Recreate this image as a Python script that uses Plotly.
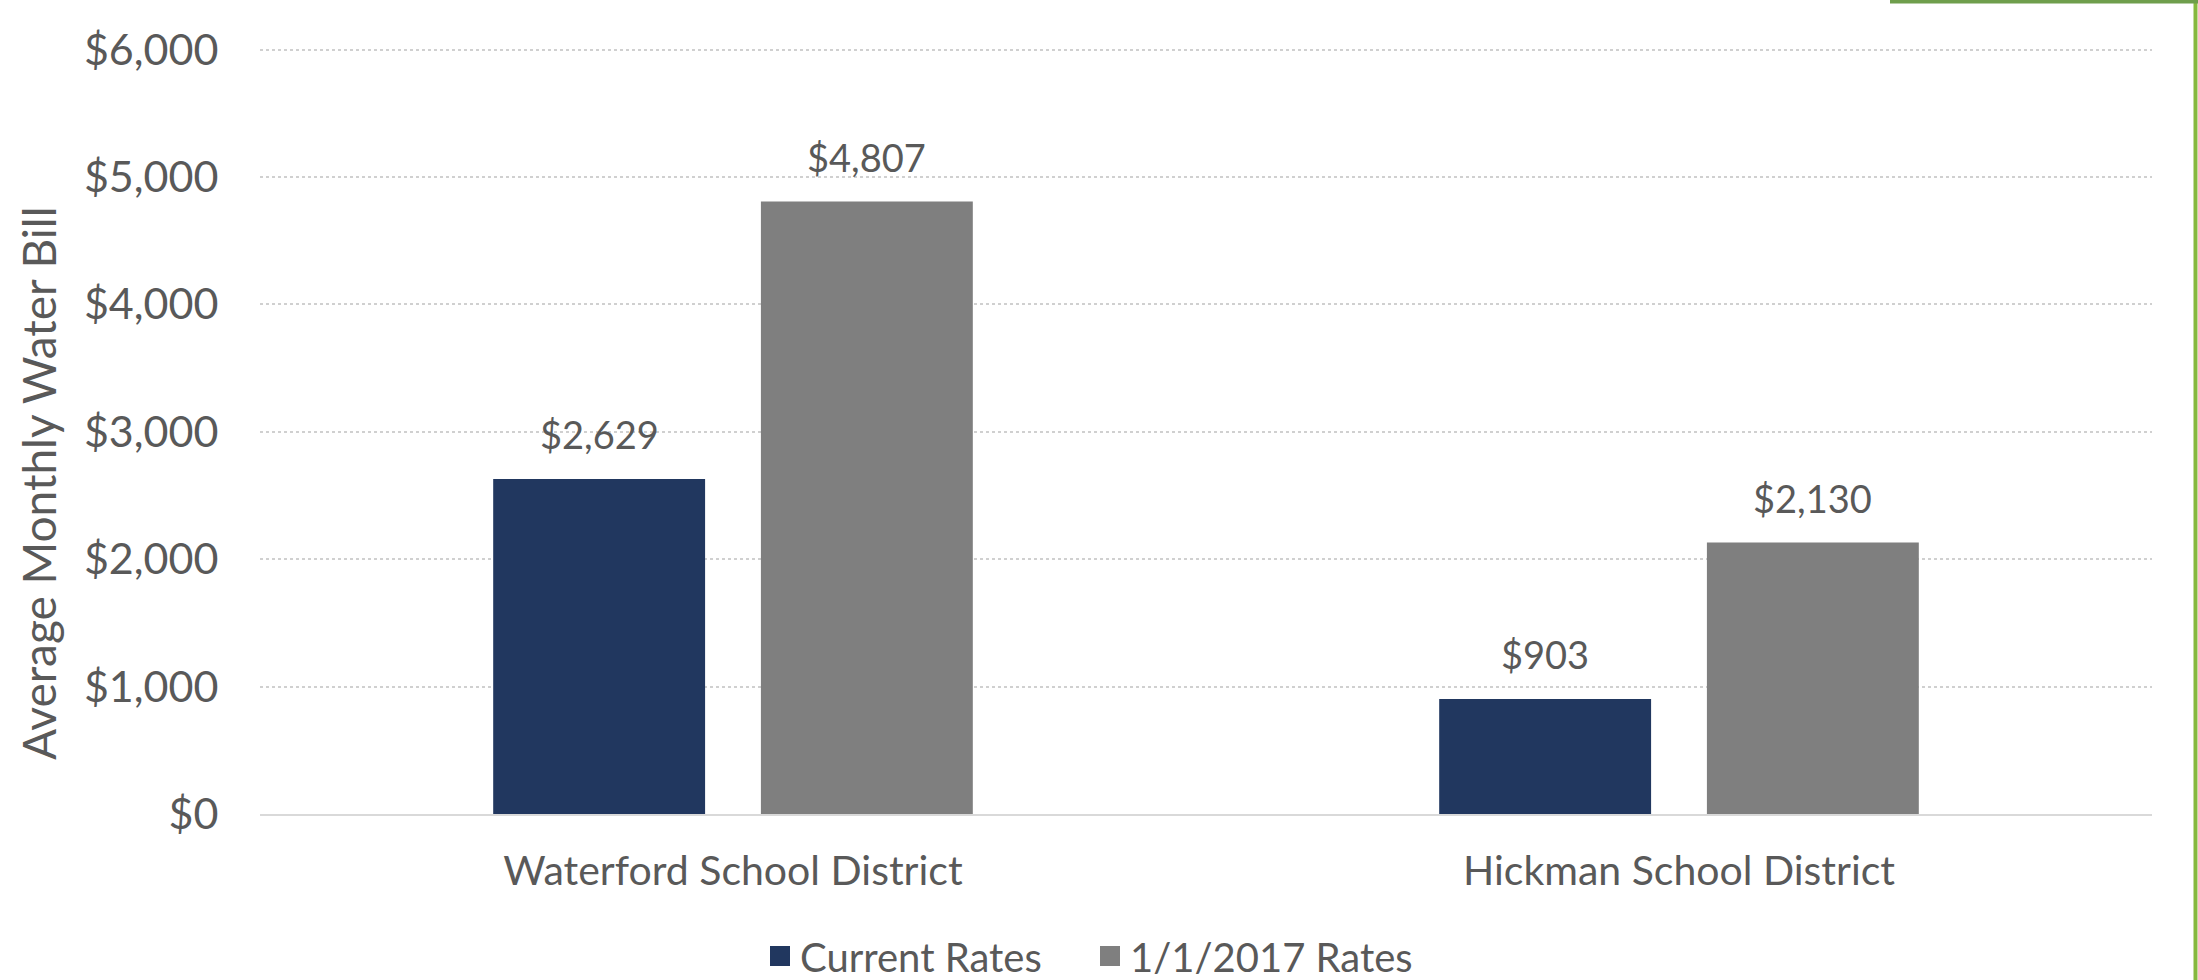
import plotly.graph_objects as go

categories = ["Waterford School District", "Hickman School District"]
series_names = ["Current Rates", "1/1/2017 Rates"]
current_rates = [2629, 903]
rates_2017 = [4807, 2130]
y_ticks = [0, 1000, 2000, 3000, 4000, 5000, 6000]

colors = ["#21375F", "#7F7F7F"]
text_color = "#595959"
font_family = "Lato, 'Open Sans', sans-serif"

W, H = 2198, 980
ML, MR, MT, MB = 260, 46, 47, 166

BAR_W = 0.224
BAR_GAP = 0.059
offsets = [-BAR_GAP / 2 - BAR_W, BAR_GAP / 2]
xpos = list(range(len(categories)))

fig = go.Figure()
annotations = []
for s, (name, vals) in enumerate(zip(series_names, [current_rates, rates_2017])):
    fig.add_trace(go.Bar(
        x=xpos, y=vals, name=name,
        width=BAR_W, offset=offsets[s],
        marker=dict(color=colors[s], line=dict(width=0)),
        showlegend=False,
        hoverinfo="skip",
    ))
    for xi, v in zip(xpos, vals):
        annotations.append(dict(
            x=xi + offsets[s] + BAR_W / 2, y=v, xref="x", yref="y",
            text="${:,}".format(v), showarrow=False,
            yanchor="bottom", yshift=20,
            font=dict(size=38, color=text_color, family=font_family),
        ))
    # legend entry
    fig.add_trace(go.Scatter(
        x=[None], y=[None], mode="markers", name=name,
        marker=dict(symbol="square", size=16, color=colors[s],
                    line=dict(color=colors[s], width=4)),
        showlegend=True,
    ))

plot_w = W - ML - MR
plot_h = H - MT - MB

# y-axis title
annotations.append(dict(
    x=(38 - ML) / plot_w, y=(H - MB - 483) / plot_h, xref="paper", yref="paper",
    text="Average Monthly Water Bill", textangle=-90, showarrow=False,
    xanchor="center", yanchor="middle",
    font=dict(size=46, color=text_color, family=font_family),
))

shapes = [
    dict(type="line", xref="paper", yref="paper",
         x0=(2195.5 - ML) / plot_w, x1=(2195.5 - ML) / plot_w,
         y0=(H - MB - 0) / plot_h, y1=(H - MB - H) / plot_h,
         line=dict(color="#86B83E", width=4)),
    dict(type="line", xref="paper", yref="paper",
         x0=(1890 - ML) / plot_w, x1=(W - ML) / plot_w,
         y0=(H - MB - 1.5) / plot_h, y1=(H - MB - 1.5) / plot_h,
         line=dict(color="#6F9E4C", width=4)),
]

fig.update_layout(
    width=W, height=H,
    margin=dict(l=ML, r=MR, t=MT, b=MB, pad=0, autoexpand=False),
    paper_bgcolor="white", plot_bgcolor="white",
    font=dict(family=font_family, color=text_color, size=40),
    annotations=annotations,
    shapes=shapes,
    showlegend=True,
    legend=dict(
        orientation="h", x=(1090 - ML) / plot_w, xanchor="center",
        y=(H - MB - 956) / plot_h, yanchor="middle",
        font=dict(size=40, color=text_color, family=font_family),
        itemwidth=30, tracegroupgap=0, entrywidth=285, entrywidthmode="pixels",
    ),
)

fig.update_xaxes(
    range=[-0.5, len(categories) - 0.5],
    tickmode="array", tickvals=xpos, ticktext=categories,
    showgrid=False, zeroline=False,
    showline=True, linecolor="#D9D9D9", linewidth=2,
    ticks="outside", ticklen=20, tickcolor="rgba(0,0,0,0)",
    tickfont=dict(size=41, color=text_color, family=font_family),
    fixedrange=True,
)
fig.update_yaxes(
    range=[0, 6020],
    tickmode="array", tickvals=y_ticks,
    ticktext=["${:,}".format(v) for v in y_ticks],
    showgrid=True, gridcolor="#D0D0D0", gridwidth=2, griddash="dot",
    zeroline=False, showline=False,
    ticks="outside", ticklen=32, tickcolor="rgba(0,0,0,0)",
    tickfont=dict(size=43, color=text_color, family=font_family),
    fixedrange=True,
)

fig.write_html("out.html", config={"displayModeBar": False},
               post_script="document.body.style.margin='0';document.body.style.overflow='hidden';")
